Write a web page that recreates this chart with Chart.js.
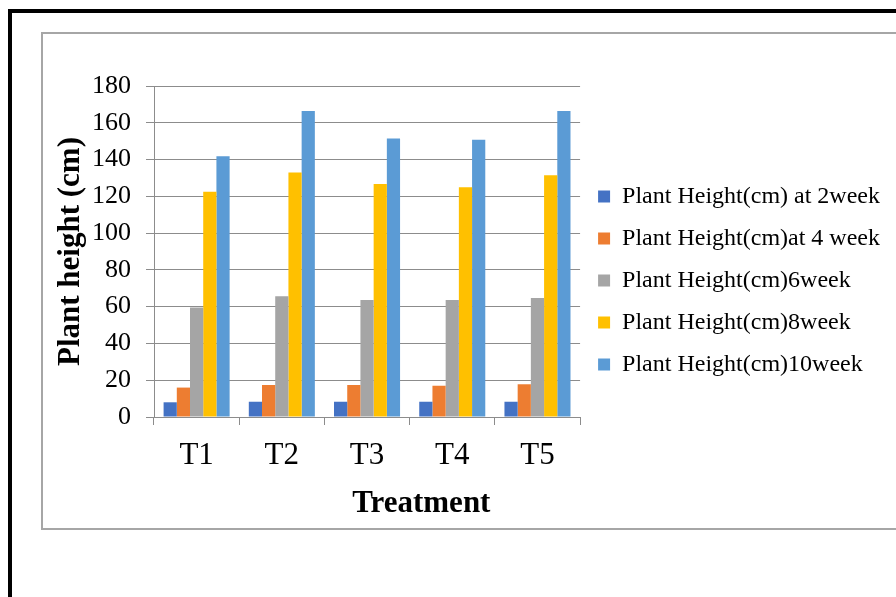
<!DOCTYPE html>
<html>
<head>
  <title>Plant Height</title>
  <script src="https://cdn.jsdelivr.net/npm/chart.js"></script>
  <style>
    body { margin: 0; background: #fff; overflow: hidden; }
    #frame {
      position: absolute; left: 8px; top: 9px; width: 950px; height: 700px;
      border-top: 4px solid #000; border-left: 4px solid #000;
    }
    #box {
      position: absolute; left: 41px; top: 32px; width: 950px; height: 494px;
      border: 2px solid #a6a6a6;
    }
    #wrap { position: absolute; left: 0; top: 0; width: 896px; height: 597px; }
  </style>
</head>
<body>
  <div id="frame"></div>
  <div id="box"></div>
  <div id="wrap"><canvas id="heightChart"></canvas></div>

  <script>
    var treatments = ['T1', 'T2', 'T3', 'T4', 'T5'];
    var week2 = [8, 8.3, 8.3, 8.3, 8.3];
    var week4 = [16, 17.4, 17.4, 17, 17.8];
    var week6 = [59.5, 65.6, 63.6, 63.6, 64.7];
    var week8 = [122.5, 133, 126.7, 125, 131.4];
    var week10 = [141.8, 166.4, 151.5, 150.8, 166.4];

    var serif = "'Liberation Serif', 'Times New Roman', serif";
    var gridGray = '#8c8c8c';

    function ds(label, data, color) {
      return {
        label: label,
        data: data,
        backgroundColor: color,
        borderWidth: 0,
        categoryPercentage: 0.775,
        barPercentage: 1.0
      };
    }

    // the layout caps a side legend at a quarter of the width, let it be wider
    var wideLegend = {
      id: 'wideLegend',
      beforeLayout: function (chart) {
        var lg = chart.legend;
        if (lg && !lg._wide) {
          var up = lg.update;
          lg.update = function (w, h, m) { return up.call(this, 340, h, m); };
          lg._wide = true;
        }
      }
    };

    var ctx = document.getElementById('heightChart').getContext('2d');
    var heightChart = new Chart(ctx, {
      type: 'bar',
      data: {
        labels: treatments,
        datasets: [
          ds('Plant Height(cm) at 2week', week2, '#4472C4'),
          ds('Plant Height(cm)at 4 week', week4, '#ED7D31'),
          ds('Plant Height(cm)6week', week6, '#A5A5A5'),
          ds('Plant Height(cm)8week', week8, '#FFC000'),
          ds('Plant Height(cm)10week', week10, '#5B9BD5')
        ]
      },
      plugins: [wideLegend],
      options: {
        responsive: true,
        maintainAspectRatio: false,
        animation: false,
        layout: { padding: { left: 48, top: 86, right: 6, bottom: 70 } },
        plugins: {
          tooltip: { enabled: false },
          legend: {
            position: 'right',
            fullSize: false,
            title: { display: true, text: ' ', font: { size: 10, lineHeight: 1 }, padding: { top: 0, bottom: 48 } },
            labels: {
              color: '#000',
              boxWidth: 12,
              boxHeight: 12,
              padding: 18,
              font: { family: serif, size: 24 }
            }
          }
        },
        scales: {
          x: {
            grid: { drawOnChartArea: false, drawTicks: true, tickLength: 8, color: gridGray, offset: true },
            border: { color: gridGray, width: 1 },
            ticks: { color: '#000', font: { family: serif, size: 31 }, padding: 12, maxRotation: 0 },
            title: { display: true, text: '              Treatment', color: '#000', font: { family: serif, size: 31, weight: 'bold' }, padding: 4 },
            afterFit: function (scale) { scale.height = 110; }
          },
          y: {
            min: 0,
            max: 180,
            ticks: { stepSize: 20, color: '#000', font: { family: serif, size: 26 }, padding: 15 },
            grid: { color: gridGray, tickLength: 8 },
            border: { color: gridGray, width: 1 },
            title: { display: true, text: 'Plant height (cm)', color: '#000', font: { family: serif, size: 31, weight: 'bold' }, padding: 4 },
            afterFit: function (scale) { scale.width = 106; }
          }
        }
      }
    });
  </script>
</body>
</html>
